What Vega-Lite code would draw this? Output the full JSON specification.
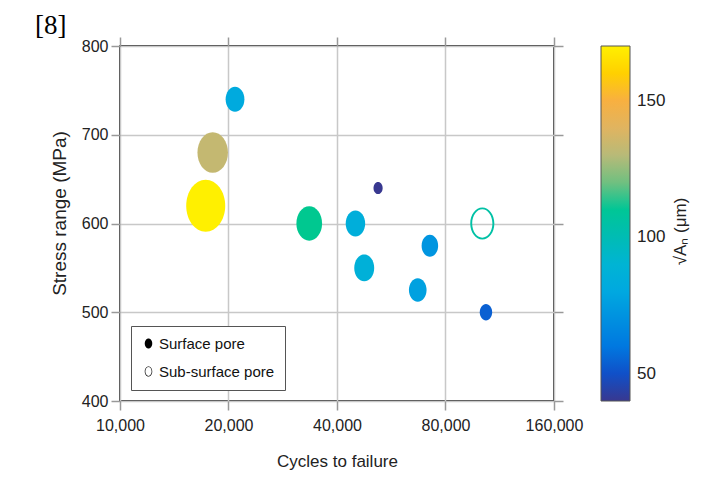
{
  "$schema": "https://vega.github.io/schema/vega-lite/v6.json",
  "width": 434,
  "height": 355,
  "autosize": "none",
  "padding": {"left": 120, "top": 46, "right": 171, "bottom": 97},
  "background": "white",
  "config": {
    "font": "Liberation Sans",
    "view": {"stroke": "black", "strokeWidth": 1.5},
    "axis": {
      "domain": false,
      "tickColor": "#999999",
      "tickWidth": 1.5,
      "tickSize": 9,
      "gridColor": "#c8c8c8",
      "gridWidth": 1.5,
      "gridOpacity": 1,
      "labelFontSize": 16,
      "labelColor": "#222222",
      "titleFontSize": 17,
      "titleFontWeight": "normal",
      "titleColor": "#222222",
      "labelFlush": false,
      "labelOverlap": false,
      "labelBound": false
    }
  },
  "title": {
    "text": "[8]",
    "font": "Liberation Serif",
    "fontSize": 27,
    "fontWeight": "normal",
    "anchor": "start",
    "frame": "group",
    "dx": -85,
    "dy": 8,
    "offset": 4,
    "color": "black"
  },
  "data": {
    "values": [
      {"cycles": 20850, "stress": 740, "sqrtA": 82, "type": "Surface pore"},
      {"cycles": 18080, "stress": 680, "sqrtA": 133, "type": "Surface pore"},
      {"cycles": 17290, "stress": 620, "sqrtA": 170, "type": "Surface pore"},
      {"cycles": 33500, "stress": 600, "sqrtA": 112, "type": "Surface pore"},
      {"cycles": 45000, "stress": 600, "sqrtA": 85, "type": "Surface pore"},
      {"cycles": 52000, "stress": 640, "sqrtA": 40, "type": "Surface pore"},
      {"cycles": 47600, "stress": 550, "sqrtA": 87, "type": "Surface pore"},
      {"cycles": 72400, "stress": 575, "sqrtA": 72, "type": "Surface pore"},
      {"cycles": 67000, "stress": 525, "sqrtA": 77, "type": "Surface pore"},
      {"cycles": 103600, "stress": 500, "sqrtA": 54, "type": "Surface pore"},
      {"cycles": 101200, "stress": 600, "sqrtA": 105, "type": "Sub-surface pore"}
    ]
  },
  "layer": [
    {
      "mark": {"type": "point", "filled": true, "strokeWidth": 0, "opacity": 1},
      "encoding": {
        "x": {
          "field": "cycles",
          "type": "quantitative",
          "scale": {"type": "log", "domain": [10000, 160000]},
          "axis": {
            "orient": "bottom",
            "values": [10000, 20000, 40000, 80000, 160000],
            "format": ",d",
            "title": "Cycles to failure",
            "labelPadding": 7,
            "titlePadding": 20
          }
        },
        "y": {
          "field": "stress",
          "type": "quantitative",
          "scale": {"domain": [400, 800]},
          "axis": {
            "orient": "left",
            "values": [400, 500, 600, 700, 800],
            "title": "Stress range (MPa)",
            "titleFontSize": 19,
            "titleY": 167,
            "labelPadding": 3,
            "titlePadding": 12
          }
        },
        "fill": {
          "field": "sqrtA",
          "type": "quantitative",
          "scale": {
            "domain": [40, 50, 60, 70, 80, 90, 100, 112, 120, 130, 140, 150, 160, 170],
            "range": ["#383890", "#1050c8", "#0078e0", "#0090e0", "#00a8e0", "#00b4d4", "#00bcb4", "#00c890", "#70c080", "#b8ba78", "#e0b460", "#f8b040", "#ffd000", "#fff000"],
            "interpolate": "rgb"
          },
          "legend": {
            "type": "gradient",
            "orient": "none",
            "legendX": 481,
            "legendY": 0,
            "direction": "vertical",
            "gradientLength": 355,
            "gradientThickness": 29,
            "gradientStrokeColor": "#555555",
            "gradientStrokeWidth": 1,
            "values": [50, 100, 150],
            "labelFontSize": 17,
            "labelColor": "#222222",
            "labelOffset": 7,
            "title": null
          }
        },
        "size": {
          "field": "sqrtA",
          "type": "quantitative",
          "scale": {"type": "pow", "exponent": 2, "domain": [0, 170], "range": [0, 2704]},
          "legend": null
        },
        "shape": {
          "field": "type",
          "type": "nominal",
          "scale": {
            "domain": ["Surface pore", "Sub-surface pore"],
            "range": [
              "M0,-1A0.75,1,0,1,1,0,1A0.75,1,0,1,1,0,-1Z",
              "M0,-1A0.75,1,0,1,1,0,1A0.75,1,0,1,1,0,-1ZM0,-0.88A0.63,0.88,0,1,0,0,0.88A0.63,0.88,0,1,0,0,-0.88Z"
            ]
          },
          "legend": {
            "title": null,
            "orient": "bottom-left",
            "offset": 11,
            "fillColor": "white",
            "strokeColor": "#555555",
            "padding": 10,
            "rowPadding": 12,
            "symbolSize": 100,
            "symbolFillColor": "black",
            "symbolStrokeWidth": 0,
            "labelFontSize": 15,
            "labelColor": "#111111",
            "labelOffset": 3
          }
        }
      }
    },
    {
      "mark": {"type": "point", "opacity": 0},
      "encoding": {
        "x": {
          "field": "cycles",
          "type": "quantitative",
          "scale": {"type": "log", "domain": [10000, 160000]},
          "axis": {
            "orient": "top",
            "values": [10000, 20000, 40000, 80000, 160000],
            "labels": false,
            "grid": false,
            "title": null
          }
        },
        "y": {
          "field": "stress",
          "type": "quantitative",
          "scale": {"domain": [400, 800]},
          "axis": {
            "orient": "right",
            "values": [400, 500, 600, 700, 800],
            "labels": false,
            "grid": false,
            "title": "√Aₙ  (μm)",
            "titleAngle": 270,
            "titleX": 126,
            "titleY": 185,
            "titleAlign": "center",
            "titleBaseline": "middle",
            "titleFontSize": 17
          }
        }
      }
    }
  ],
  "resolve": {"axis": {"x": "independent", "y": "independent"}}
}
